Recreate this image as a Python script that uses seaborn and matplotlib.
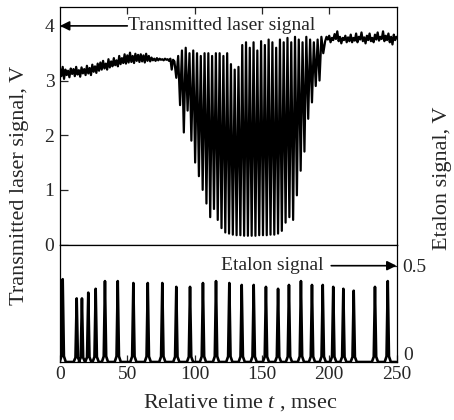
import numpy as np
import pandas as pd
import matplotlib
matplotlib.use("Agg")
import matplotlib.pyplot as plt
import matplotlib.transforms as mtransforms
import seaborn as sns

# ---------------- data ----------------
# transmitted laser signal, before the absorption region (t = 0..84 msec, 1 msec step)
laser_pre = [3.22, 3.08, 3.25, 3.03, 3.20, 3.10, 3.18, 3.06, 3.22, 3.12,
             3.21, 3.08, 3.25, 3.11, 3.19, 3.07, 3.24, 3.13, 3.21, 3.10,
             3.27, 3.13, 3.23, 3.10, 3.29, 3.16, 3.26, 3.14, 3.31, 3.18,
             3.33, 3.20, 3.36, 3.22, 3.31, 3.20, 3.39, 3.24, 3.35, 3.26,
             3.41, 3.28, 3.37, 3.26, 3.45, 3.30, 3.41, 3.32, 3.48, 3.31,
             3.46, 3.33, 3.51, 3.34, 3.45, 3.32, 3.49, 3.36, 3.47, 3.34,
             3.48, 3.35, 3.46, 3.33, 3.49, 3.36, 3.45, 3.35, 3.42, 3.37,
             3.40, 3.36, 3.41, 3.37, 3.40, 3.38, 3.39, 3.37, 3.40, 3.38,
             3.39, 3.36, 3.40, 3.20, 3.38]
# absorption region (t = 85.0 .. 195.6 msec, 1.4 msec step): alternating spike tops / bottoms
laser_dip = [3.35, 3.05, 3.45, 2.55, 3.55, 2.05, 3.60, 2.45, 3.50, 1.90,
             3.55, 1.50, 3.50, 1.25, 3.45, 1.00, 3.50, 0.75, 3.50, 0.50,
             3.45, 0.65, 3.50, 0.45, 3.50, 0.30, 3.45, 0.22, 3.50, 0.20,
             3.30, 0.18, 3.20, 0.17, 3.25, 0.17, 3.65, 0.16, 3.70, 0.16,
             3.60, 0.16, 3.70, 0.16, 3.55, 0.17, 3.72, 0.17, 3.65, 0.17,
             3.75, 0.18, 3.70, 0.18, 3.60, 0.20, 3.75, 0.25, 3.70, 0.40,
             3.78, 0.50, 3.70, 0.45, 3.80, 0.90, 3.75, 1.35, 3.70, 1.70,
             3.80, 2.30, 3.75, 2.60, 3.70, 2.90, 3.75, 3.00, 3.80, 3.50]
# after the absorption region (t = 197..250 msec, 1 msec step)
laser_post = [3.72, 3.80, 3.75, 3.82, 3.70, 3.78, 3.74, 3.85, 3.76, 3.90,
              3.72, 3.80, 3.68, 3.78, 3.74, 3.82, 3.70, 3.79, 3.72, 3.84,
              3.70, 3.78, 3.73, 3.86, 3.70, 3.80, 3.75, 3.88, 3.72, 3.79,
              3.68, 3.82, 3.74, 3.86, 3.72, 3.78, 3.70, 3.84, 3.75, 3.88,
              3.73, 3.80, 3.76, 3.90, 3.72, 3.82, 3.74, 3.86, 3.70, 3.80,
              3.66, 3.84, 3.74, 3.80]

t_pre = np.arange(0, 85, 1.0)
t_dip = np.linspace(85.0, 195.6, len(laser_dip))
t_post = np.arange(197, 251, 1.0)

# etalon transmission peaks
etalon_t = [2.0, 12.4, 16.3, 21.0, 26.5, 33.4, 42.9, 54.5, 65.2, 76.0,
            86.4, 96.6, 106.2, 115.9, 125.8, 135.0, 143.9, 153.0, 162.0, 170.1,
            179.0, 187.2, 195.2, 203.0, 210.5, 218.2, 234.0, 243.5]
etalon_h = [0.43, 0.33, 0.33, 0.36, 0.38, 0.42, 0.42, 0.41, 0.41, 0.41,
            0.39, 0.39, 0.41, 0.42, 0.41, 0.40, 0.40, 0.39, 0.38, 0.40,
            0.42, 0.40, 0.40, 0.39, 0.38, 0.37, 0.39, 0.42]

x_ticks = [0, 50, 100, 150, 200, 250]
laser_ticks = [0, 1, 2, 3, 4]
etalon_ticks = [0, 0.5]

# ---------------- tables ----------------
laser_df = pd.DataFrame({
    "t": np.concatenate([t_pre, t_dip, t_post]),
    "v": np.concatenate([laser_pre, laser_dip, laser_post]),
})

shape_dt = [-2.3, -0.9, 0.0, 0.9, 2.3]
shape_f = [0.0, 0.07, 1.0, 0.07, 0.0]
et_x, et_y = [], []
for tp, hp in zip(etalon_t, etalon_h):
    for d, f in zip(shape_dt, shape_f):
        et_x.append(tp + d)
        et_y.append(hp * f)
et_x.append(250.0)
et_y.append(0.0)
etalon_df = pd.DataFrame({"t": et_x, "v": et_y})

# ---------------- style ----------------
sns.set_style("ticks")
plt.rcParams["font.family"] = ["Liberation Serif", "DejaVu Serif"]
plt.rcParams["mathtext.fontset"] = "custom"
plt.rcParams["mathtext.rm"] = "Liberation Serif"
plt.rcParams["mathtext.it"] = "Liberation Serif:italic"

W, H = 454, 420
fig = plt.figure(figsize=(W / 100, H / 100), dpi=100)
left, right = 60 / W, 396.5 / W
ax1 = fig.add_axes([left, 1 - 244.5 / H, right - left, (244.5 - 7.3) / H])
ax2 = fig.add_axes([left, 1 - 362 / H, right - left, (362 - 244.5) / H])

sns.lineplot(data=laser_df, x="t", y="v", ax=ax1, color="black", lw=1.6,
             estimator=None, sort=False)
sns.lineplot(data=etalon_df, x="t", y="v", ax=ax2, color="black", lw=1.9,
             estimator=None, sort=False)

for ax in (ax1, ax2):
    ax.set_xlim(0, 250)
    ax.set_xlabel("")
    ax.set_ylabel("")
    for s in ax.spines.values():
        s.set_linewidth(0.9)
        s.set_color("black")
        s.set_visible(True)

# top panel
ax1.set_ylim(0, 4.34)
ax1.set_yticks(laser_ticks)
ax1.set_yticklabels([str(v) for v in laser_ticks])
ax1.set_xticks([50, 100, 150, 200])
ax1.tick_params(axis="x", which="both", bottom=False, top=True, labelbottom=False,
                labeltop=False, direction="in", length=5, width=0.9)
ax1.tick_params(axis="y", left=True, right=False, direction="in", length=6,
                width=0.9, labelsize=14, pad=4)

# bottom panel
ax2.set_ylim(0, 0.61)
ax2.yaxis.tick_right()
ax2.set_yticks(etalon_ticks)
ax2.set_yticklabels(["0", "0.5"])
ax2.set_xticks(x_ticks)
ax2.set_xticklabels([str(v) for v in x_ticks])
ax2.tick_params(axis="x", bottom=True, top=False, direction="in", length=5,
                width=0.9, labelsize=14, pad=3)
ax2.tick_params(axis="y", left=False, right=True, labelleft=False, labelright=True,
                direction="in", length=5, width=0.9, labelsize=14, pad=4)

# nudge the right-hand "0" label up so it clears "250"
lab0 = ax2.get_yticklabels()[0]
lab0.set_transform(lab0.get_transform() +
                   mtransforms.ScaledTranslation(1 / 72, 6 / 72, fig.dpi_scale_trans))

# annotations
ax1.annotate("", xy=(0, 4.0), xytext=(50, 4.0),
             arrowprops=dict(arrowstyle="-|>", color="black", lw=1.2,
                             mutation_scale=14, shrinkA=0, shrinkB=0))
ax1.text(50.5, 4.0, "Transmitted laser signal", fontsize=14, ha="left",
         va="center")
ax2.annotate("", xy=(250, 0.5), xytext=(201.5, 0.5),
             arrowprops=dict(arrowstyle="-|>", color="black", lw=1.2,
                             mutation_scale=14, shrinkA=0, shrinkB=0))
ax2.text(195.5, 0.5, "Etalon signal", fontsize=14, ha="right", va="center")

# axis labels
fig.text(20 / W, 1 - 185 / H, "Transmitted laser signal, V", rotation=90,
         fontsize=16, ha="center", va="center")
fig.text(442 / W, 1 - 178 / H, "Etalon signal, V", rotation=90,
         fontsize=16, ha="center", va="center")
fig.text(240 / W, 1 - 403 / H, "Relative time $t$ , msec", fontsize=16,
         ha="center", va="center")

fig.savefig("out.png", dpi=100)
